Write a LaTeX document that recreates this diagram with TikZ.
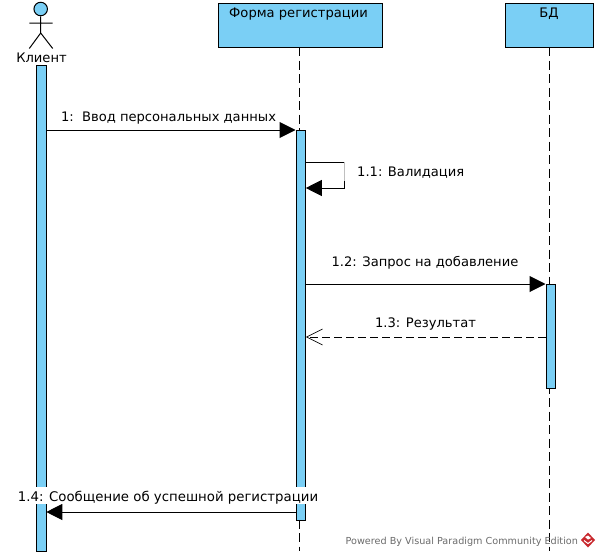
\documentclass[tikz,border=0pt]{standalone}
\usepackage{fontspec}
\setmainfont{DejaVu Sans}
\usetikzlibrary{arrows.meta}
\definecolor{vpblue}{RGB}{122,207,245}
\definecolor{vpred}{RGB}{200,40,45}
\tikzset{
  x=1pt,y=-1pt,
  lifebox/.style={draw=black,line width=1pt,fill=vpblue,inner sep=0pt,anchor=north west},
  activation/.style={draw=black,line width=0.8pt,fill=vpblue,inner sep=0pt,anchor=north west,minimum width=9.5pt},
  lifeline/.style={draw=black,line width=1pt,dash pattern=on 9pt off 4.5pt},
  msg/.style={draw=black,line width=1pt},
  solidtip/.style={-{Triangle[length=16pt,width=16pt,fill=black]}},
  opentip/.style={-{Straight Barb[length=16pt,width=16pt,line width=0.7pt]}},
  ret/.style={draw=black,line width=1pt,dash pattern=on 8pt off 4pt},
  lbl/.style={inner sep=0pt,font=\fontsize{13.1}{15}\selectfont,anchor=base},
}
\begin{document}
\begin{tikzpicture}
\useasboundingbox (0,0) rectangle (600,557);
% lifelines
\node[lifebox,minimum width=164pt,minimum height=44pt] (form) at (217.5,2.5) {};
\node[lifebox,minimum width=88pt,minimum height=44pt] (db) at (505,2.5) {};
\coordinate (formEnd) at (299,551);
\coordinate (dbEnd) at (549,551);
\draw[lifeline] (299,47) -- (formEnd);
\draw[lifeline] (549,47) -- (dbEnd);
% activations
\node[activation,minimum height=486pt,minimum width=10pt] (acClient) at (35.5,65) {};
\node[activation,minimum height=389.5pt] (acForm) at (295.5,130) {};
\node[activation,minimum height=104pt] (acDb) at (545.5,284) {};
% actor
\node[circle,draw=black,line width=1pt,fill=vpblue,minimum size=13.5pt,inner sep=0pt] (head) at (40.7,9) {};
\coordinate (hip) at (40.7,33);
\coordinate (armL) at (29.3,23);
\coordinate (armR) at (52.7,23);
\coordinate (legL) at (29.3,48.5);
\coordinate (legR) at (52.7,48.5);
\draw[line width=1pt] (head.south) -- (hip) (armL) -- (armR) (legL) -- (hip) -- (legR);
% titles
\node[lbl] (tClient) at (41.5,62) {Клиент};
\node[lbl] (tForm) at (298.5,17.5) {Форма регистрации};
\node[lbl] (tDb) at (549,17.5) {БД};
% messages
\draw[msg,solidtip] (acClient.east |- 0,130) -- (acForm.west |- 0,130);
\coordinate (selfA) at (344.5,162);
\coordinate (selfB) at (344.5,188);
\draw[msg] (acForm.east |- selfA) -- (selfA);
\draw[line width=0.6pt,draw=black!25] (selfA) -- (344.5,181);
\draw[msg] (344.5,181) -- (selfB);
\draw[msg,solidtip] (selfB) -- (acForm.east |- selfB);
\draw[msg,solidtip] (acForm.east |- 0,284) -- (acDb.west |- 0,284);
\draw[ret,opentip] (acDb.west |- 0,337) -- (acForm.east |- 0,337);
\draw[msg,solidtip] (acForm.west |- 0,512) -- (acClient.east |- 0,512);
% labels
\node[lbl] (m1) at (168.5,121) {1:\ \ Ввод персональных данных};
\node[lbl,anchor=base west] (m11) at (357,176) {1.1: Валидация};
\node[lbl] (m12) at (425,266) {1.2: Запрос на добавление};
\node[lbl] (m13) at (425.5,327) {1.3: Результат};
\node[lbl,fill=white,text height=14pt,text depth=2.5pt,font=\fontsize{13.3}{15}\selectfont] (m14) at (168,501) {1.4: Сообщение об успешной регистрации};
% watermark
\node[inner sep=0pt,anchor=base west,text=black!58,font=\fontsize{9.65}{11}\selectfont] (wm) at (345.5,544) {Powered By Visual Paradigm Community Edition};
\fill[vpred] (588,532.5) -- (595,540) -- (588,547.5) -- (581,540) -- cycle;
\fill[white] (585,537) -- (588,535.5) -- (591,538) -- (588,539.5) -- cycle;
\draw[white,line width=1pt] (584,540.5) -- (588,543.5) -- (592,540.5);
\end{tikzpicture}
\end{document}
